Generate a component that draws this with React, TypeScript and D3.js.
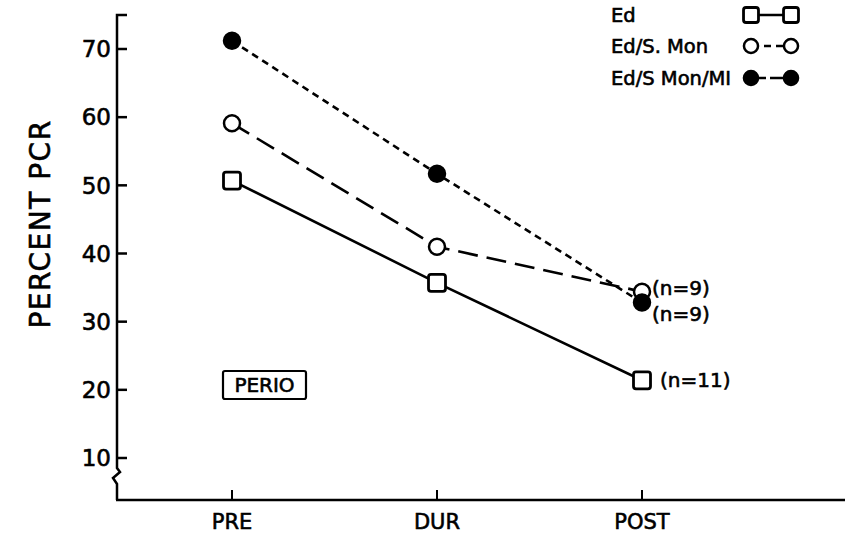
import React, { useRef, useEffect } from 'react';
import * as d3 from 'd3';

const phases = ['PRE', 'DUR', 'POST'];
const yTicks = [10, 20, 30, 40, 50, 60, 70];

const edValues = [50.7, 35.7, 21.4];
const monValues = [59.1, 41.0, 34.4];
const miValues = [71.2, 51.7, 32.8];

const seriesNames = ['Ed', 'Ed/S. Mon', 'Ed/S Mon/MI'];
const nLabels = ['(n=11)', '(n=9)', '(n=9)'];

const FONT = "'DejaVu Sans', 'Liberation Sans', sans-serif";

const App = () => {
  const svgRef = useRef<SVGSVGElement>(null);

  useEffect(() => {
    const svg = d3.select(svgRef.current);
    svg.selectAll('*').remove();

    const width = 845;
    const axisX = 117;
    const axisY = 500;

    const x = d3.scalePoint<string>().domain(phases).range([232, 642]);
    const y = d3.scaleLinear().domain([10, 70]).range([458, 49]);

    const g = svg.append('g');

    // text helper - a thin stroke gives the heavier, lettering-guide look
    const label = (sel: any, size: number) =>
      sel.style('font-family', FONT)
        .style('font-size', `${size}px`)
        .attr('fill', '#000')
        .attr('stroke', '#000')
        .attr('stroke-width', 0.6);

    // y axis with break
    const yPath = d3.path();
    yPath.moveTo(axisX + 10, 15);
    yPath.lineTo(axisX, 15);
    yPath.lineTo(axisX, 468);
    yPath.lineTo(axisX + 3, 472);
    yPath.lineTo(axisX - 4, 478);
    yPath.lineTo(axisX, 484);
    yPath.lineTo(axisX, axisY);
    g.append('path')
      .attr('d', yPath.toString())
      .attr('fill', 'none')
      .attr('stroke', '#000')
      .attr('stroke-width', 2.5);

    // x axis
    g.append('line')
      .attr('x1', axisX - 1).attr('x2', width)
      .attr('y1', axisY).attr('y2', axisY)
      .attr('stroke', '#000').attr('stroke-width', 2.5);

    // y ticks
    g.selectAll('.ytick')
      .data(yTicks)
      .enter().append('line')
      .attr('x1', axisX).attr('x2', axisX + 10)
      .attr('y1', d => y(d)).attr('y2', d => y(d))
      .attr('stroke', '#000').attr('stroke-width', 2.5);

    label(g.selectAll('.ylabel')
      .data(yTicks)
      .enter().append('text')
      .attr('x', axisX - 6)
      .attr('y', d => y(d))
      .attr('dy', '0.36em')
      .attr('text-anchor', 'end')
      .text(d => d), 23);

    // x ticks
    g.selectAll('.xtick')
      .data(phases)
      .enter().append('line')
      .attr('x1', d => x(d)!).attr('x2', d => x(d)!)
      .attr('y1', axisY).attr('y2', axisY - 10)
      .attr('stroke', '#000').attr('stroke-width', 2);

    label(g.selectAll('.xlabel')
      .data(phases)
      .enter().append('text')
      .attr('x', d => x(d)!)
      .attr('y', 529)
      .attr('text-anchor', 'middle')
      .text(d => d), 21);

    // y axis title
    label(svg.append('text')
      .attr('transform', 'translate(50,224) rotate(-90)')
      .attr('text-anchor', 'middle')
      .style('letter-spacing', '1.5px')
      .text('PERCENT PCR'), 28);

    const line = d3.line<number>()
      .x((_d, i) => x(phases[i])!)
      .y(d => y(d));

    const series = [
      { values: edValues, dash: null, marker: 'square' },
      { values: monValues, dash: '20,9', marker: 'open' },
      { values: miValues, dash: '7,5', marker: 'filled' },
    ];

    series.forEach(s => {
      g.append('path')
        .attr('d', line(s.values))
        .attr('fill', 'none')
        .attr('stroke', '#000')
        .attr('stroke-width', 2.6)
        .attr('stroke-dasharray', s.dash);
    });

    const drawMarker = (sel: any, kind: string, cx: number, cy: number, sz = 1) => {
      if (kind === 'square') {
        sel.append('rect')
          .attr('x', cx - 8.5 * sz).attr('y', cy - 8.5 * sz)
          .attr('width', 17 * sz).attr('height', 17 * sz)
          .attr('rx', 2.5)
          .attr('fill', '#fff')
          .attr('stroke', '#000').attr('stroke-width', 2.8);
      } else {
        sel.append('circle')
          .attr('cx', cx).attr('cy', cy).attr('r', 8 * sz)
          .attr('fill', kind === 'filled' ? '#000' : '#fff')
          .attr('stroke', '#000').attr('stroke-width', 2.5);
      }
    };

    series.forEach(s => {
      s.values.forEach((v, i) => drawMarker(g, s.marker, x(phases[i])!, y(v)));
    });

    // n annotations
    const nPos = [
      { v: edValues[2], dx: 18, dy: 0 },
      { v: monValues[2], dx: 10, dy: -4 },
      { v: miValues[2], dx: 10, dy: 11 },
    ];
    nPos.forEach((p, i) => {
      label(g.append('text')
        .attr('x', x('POST')! + p.dx)
        .attr('y', y(p.v) + p.dy)
        .attr('dy', '0.36em')
        .text(nLabels[i]), 20);
    });

    // PERIO box
    g.append('rect')
      .attr('x', 223).attr('y', 371)
      .attr('width', 83).attr('height', 28)
      .attr('rx', 2)
      .attr('fill', 'none')
      .attr('stroke', '#000').attr('stroke-width', 2.2);
    label(g.append('text')
      .attr('x', 264.5).attr('y', 385)
      .attr('dy', '0.36em')
      .attr('text-anchor', 'middle')
      .text('PERIO'), 20);

    // legend
    const legendY = [15, 46, 78];
    const legendDash = [null, '7,5', '14,4'];
    seriesNames.forEach((name, i) => {
      label(g.append('text')
        .attr('x', 611).attr('y', legendY[i])
        .attr('dy', '0.36em')
        .text(name), 19.5);
      g.append('line')
        .attr('x1', 752).attr('x2', 790)
        .attr('y1', legendY[i]).attr('y2', legendY[i])
        .attr('stroke', '#000').attr('stroke-width', 2.5)
        .attr('stroke-dasharray', legendDash[i]);
      drawMarker(g, series[i].marker, 751, legendY[i], 0.88);
      drawMarker(g, series[i].marker, 791, legendY[i], 0.88);
    });
  }, []);

  return (
    <svg
      ref={svgRef}
      width={845}
      height={537}
      style={{ position: 'absolute', left: 0, top: 0, background: '#fff' }}
    />
  );
};

export default App;
